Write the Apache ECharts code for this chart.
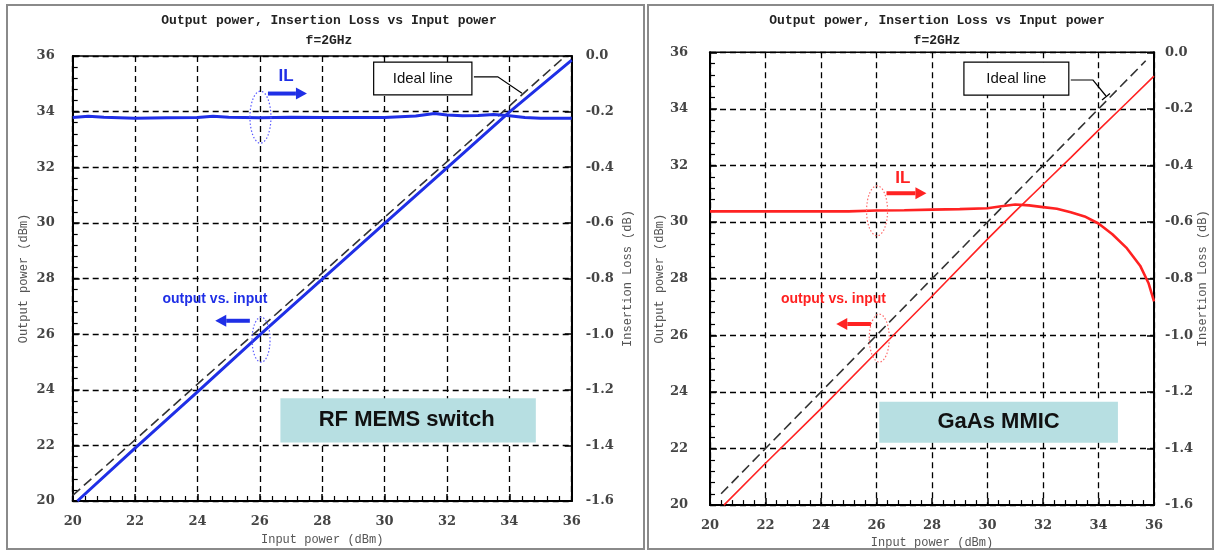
<!DOCTYPE html>
<html><head><meta charset="utf-8">
<script src="https://cdn.jsdelivr.net/npm/echarts@6/dist/echarts.min.js"></script>
<style>html,body{margin:0;padding:0;background:#fff}#c{width:1215px;height:554px}</style>
</head><body><div id="c"></div>
<script>
// ---- axis ranges / ticks ----
const inputPowerRange = [20, 36, 2];
const outputPowerRange = [20, 36, 2];
const insertionLossRange = [-1.6, 0, 0.2];

// ---- RF MEMS switch (left) ----
const memsIlInput = [20,20.5,21,22,23,24,24.5,25,26,27,28,29,30,31,31.6,32,32.5,33,33.5,34,34.5,35,36];
const memsIl      = [-0.221,-0.217,-0.220,-0.224,-0.222,-0.221,-0.217,-0.220,-0.222,-0.220,-0.221,-0.221,-0.221,-0.216,-0.207,-0.212,-0.215,-0.214,-0.210,-0.215,-0.221,-0.224,-0.224];
const memsOutInput = [20.15,22,24,26,28,30,32,34,36];
const memsOut      = [20,21.9,23.92,25.97,27.98,29.98,31.98,33.98,35.85];
const memsIdealInput = [20.0,35.8];
const memsIdeal      = [20.2,36.0];

// ---- GaAs MMIC (right) ----
const gaasIlInput = [20,21,22,23,24,25,26,27,28,29,30,30.5,31,31.5,32,32.5,33,33.5,34,34.5,35,35.5,35.8,36];
const gaasIl      = [-0.562,-0.562,-0.562,-0.562,-0.562,-0.562,-0.559,-0.558,-0.556,-0.554,-0.551,-0.544,-0.538,-0.541,-0.547,-0.553,-0.565,-0.58,-0.605,-0.643,-0.69,-0.754,-0.815,-0.88];
const gaasOutInput = [20.5,22,24,26,28,30,31,32,33,34,35,36];
const gaasOut      = [20,21.48,23.41,25.4,27.38,29.4,30.38,31.33,32.28,33.25,34.2,35.16];
const gaasIdealInput = [20.4,35.7];
const gaasIdeal      = [20.4,35.7];

const titleText = 'Output power, Insertion Loss vs Input power';
const subTitleText = 'f=2GHz';

const zip = (a,b) => a.map((v,i)=>[v,b[i]]);
const BLUE = '#1f2fe6', RED = '#ff2222';
const labelFont = {fontFamily:'DejaVu Serif', fontWeight:'bold', fontSize:13, color:'#444'};
const nameFont = {fontFamily:'Liberation Mono', fontSize:12, color:'#555'};
const titleFont = {fontFamily:'Liberation Mono', fontSize:13, fontWeight:'bold', color:'#222'};

function xAx(g, gap){
  return {type:'value', gridIndex:g, min:inputPowerRange[0], max:inputPowerRange[1], interval:inputPowerRange[2],
    axisLine:{onZero:false, lineStyle:{color:'#000',width:2}},
    axisTick:{inside:true,length:7,lineStyle:{color:'#000',width:1.5}},
    minorTick:{show:true,splitNumber:5,length:5,lineStyle:{color:'#000',width:1.2}},
    splitLine:{show:true,lineStyle:{color:'#000',type:[6,4],width:1.3}},
    axisLabel:Object.assign({margin:14},labelFont),
    name:'Input power (dBm)', nameLocation:'middle', nameGap:gap, nameTextStyle:nameFont};
}
function yLeft(g, margin, gap){
  return {type:'value', gridIndex:g, position:'left', min:outputPowerRange[0], max:outputPowerRange[1], interval:outputPowerRange[2],
    axisLine:{show:true,onZero:false,lineStyle:{color:'#000',width:2}},
    axisTick:{show:true,inside:true,length:7,lineStyle:{color:'#000',width:1.5}},
    minorTick:{show:true,splitNumber:5,length:5,lineStyle:{color:'#000',width:1.2}},
    splitLine:{show:true,lineStyle:{color:'#000',type:[6,4],width:1.3}},
    axisLabel:Object.assign({margin:margin},labelFont),
    name:'Output power (dBm)', nameLocation:'middle', nameGap:gap, nameTextStyle:nameFont};
}
function yRight(g, margin, gap){
  return {type:'value', gridIndex:g, position:'right', min:insertionLossRange[0], max:insertionLossRange[1], interval:insertionLossRange[2],
    axisLine:{show:true,onZero:false,lineStyle:{color:'#000',width:2}},
    axisTick:{show:true,inside:true,length:7,lineStyle:{color:'#000',width:1.5}},
    splitLine:{show:false},
    axisLabel:Object.assign({margin:margin, formatter:v=>v.toFixed(1)},labelFont),
    name:'Insertion Loss (dB)', nameLocation:'middle', nameGap:gap, nameTextStyle:nameFont};
}
function line(name, xi, yi, data, color, width, dashed){
  return {name, type:'line', xAxisIndex:xi, yAxisIndex:yi, data, symbol:'none', smooth:false,
    lineStyle:{color, width, type: dashed ? [10,5] : 'solid'}, z: dashed ? 3 : 4, animation:false};
}

const chart = echarts.init(document.getElementById('c'), null, {renderer:'canvas'});
chart.setOption({
  animation:false,
  backgroundColor:'#fff',
  grid:[
    {left:72.7, right:643.3, top:56, bottom:53, show:true, borderColor:'#000', borderWidth:1.5, containLabel:false},
    {left:710, right:61, top:52.3, bottom:47.5, show:true, borderColor:'#000', borderWidth:1.5, containLabel:false}
  ],
  title:[
    {text:titleText, left:324, top:9, textAlign:'center', textStyle:titleFont},
    {text:subTitleText, left:324, top:29, textAlign:'center', textStyle:titleFont},
    {text:titleText, left:932, top:9, textAlign:'center', textStyle:titleFont},
    {text:subTitleText, left:932, top:29, textAlign:'center', textStyle:titleFont}
  ],
  xAxis:[xAx(0,33), xAx(1,29)],
  yAxis:[yLeft(0,18,43), yRight(0,14,50), yLeft(1,22,44), yRight(1,11,40)],
  series:[
    line('MEMS ideal',0,0,zip(memsIdealInput,memsIdeal),'#333',1.6,true),
    line('MEMS output',0,0,zip(memsOutInput,memsOut),BLUE,3,false),
    line('MEMS IL',0,1,zip(memsIlInput,memsIl),BLUE,3,false),
    line('GaAs ideal',1,2,zip(gaasIdealInput,gaasIdeal),'#333',1.6,true),
    line('GaAs output',1,2,zip(gaasOutInput,gaasOut),RED,1.6,false),
    line('GaAs IL',1,3,zip(gaasIlInput,gaasIl),RED,2.6,false)
  ]
});

// ---- annotations (anchored in data units) ----
function P(g, right, x, y){ return chart.convertToPixel({xAxisIndex:g, yAxisIndex: g*2 + (right?1:0)}, [x,y]); }
function arrow(a, b, color){
  const dx=b[0]-a[0], dy=b[1]-a[1], L=Math.hypot(dx,dy), ux=dx/L, uy=dy/L, hl=11, hw=6;
  const base=[b[0]-ux*hl, b[1]-uy*hl];
  return [
    {type:'line', z:50, shape:{x1:a[0],y1:a[1],x2:base[0],y2:base[1]}, style:{stroke:color,lineWidth:4}},
    {type:'polygon', z:50, shape:{points:[[b[0],b[1]],[base[0]-uy*hw,base[1]+ux*hw],[base[0]+uy*hw,base[1]-ux*hw]]}, style:{fill:color}}
  ];
}
function ellipse(c, rx, ry, color){
  return {type:'ellipse', z:50, shape:{cx:c[0],cy:c[1],rx,ry}, style:{fill:null, stroke:color, lineWidth:1.2, lineDash:[1.5,2]}};
}
function text(c, s, color, font){
  return {type:'text', z:60, x:c[0], y:c[1], style:{text:s, fill:color, font, align:'center', verticalAlign:'middle'}};
}
function box(p1, p2, fill, stroke){
  return {type:'rect', z:40, shape:{x:p1[0], y:p1[1], width:p2[0]-p1[0], height:p2[1]-p1[1]}, style:{fill, stroke: stroke||null, lineWidth:1.2}};
}
const g = [];
// frames
g.push({type:'rect', z:1, shape:{x:7,y:5,width:637,height:544}, style:{fill:null, stroke:'#8a8a8a', lineWidth:2}});
g.push({type:'rect', z:1, shape:{x:648,y:5,width:565,height:544}, style:{fill:null, stroke:'#8a8a8a', lineWidth:2}});

// left chart
{
  const b1=P(0,false,29.65,35.78), b2=P(0,false,32.8,34.6);
  g.push(box(b1,b2,'#fff','#000'));
  g.push(text([(b1[0]+b2[0])/2,(b1[1]+b2[1])/2],'Ideal line','#111','15px "Liberation Sans"'));
  g.push({type:'polyline', z:50, shape:{points:[[b2[0]+2,76.8],[497.8,76.8],[522,93.3]]}, style:{stroke:'#000',lineWidth:1.2,fill:null}});
  g.push(text(P(0,false,26.84,35.28),'IL',BLUE,'bold 17px "Liberation Sans"'));
  g.push(...arrow(P(0,false,26.26,34.65),P(0,false,27.51,34.65),BLUE));
  g.push(ellipse(P(0,false,26.02,33.8),10.5,26,'#5a5aff'));
  g.push(text(P(0,false,24.56,27.26),'output vs. input',BLUE,'bold 14px "Liberation Sans"'));
  g.push(...arrow(P(0,false,25.68,26.48),P(0,false,24.57,26.48),BLUE));
  g.push(ellipse(P(0,false,26.04,25.8),9,22.5,'#5a5aff'));
  const r1=P(0,false,26.66,23.69), r2=P(0,false,34.85,22.1);
  g.push(box(r1,r2,'#b7dfe2'));
  g.push(text(P(0,false,30.71,22.93),'RF MEMS switch','#111','bold 22px "Liberation Sans"'));
}
// right chart
{
  const b1=P(1,false,29.15,35.65), b2=P(1,false,32.93,34.49);
  g.push(box(b1,b2,'#fff','#000'));
  g.push(text([(b1[0]+b2[0])/2,(b1[1]+b2[1])/2],'Ideal line','#111','15px "Liberation Sans"'));
  g.push({type:'polyline', z:50, shape:{points:[[b2[0]+2,80],[1093,80],[1106,96]]}, style:{stroke:'#000',lineWidth:1.2,fill:null}});
  g.push({type:'line', z:50, shape:{x1:1102,y1:100,x2:1110,y2:93.5}, style:{stroke:'#000',lineWidth:1.2}});
  g.push(text(P(1,true,26.95,-0.447),'IL',RED,'bold 17px "Liberation Sans"'));
  g.push(...arrow(P(1,true,26.36,-0.498),P(1,true,27.8,-0.498),RED));
  g.push(ellipse(P(1,true,26.02,-0.56),10.5,25,'#ff6a6a'));
  g.push(text(P(1,false,24.45,27.28),'output vs. input',RED,'bold 14px "Liberation Sans"'));
  g.push(...arrow(P(1,false,25.8,26.4),P(1,false,24.55,26.4),RED));
  g.push(ellipse(P(1,false,26.1,25.9),10,24,'#ff6a6a'));
  const r1=P(1,false,26.1,23.65), r2=P(1,false,34.7,22.2);
  g.push(box(r1,r2,'#b7dfe2'));
  g.push(text(P(1,false,30.4,22.93),'GaAs MMIC','#111','bold 22px "Liberation Sans"'));
}
chart.setOption({graphic:g});
</script>
</body></html>
